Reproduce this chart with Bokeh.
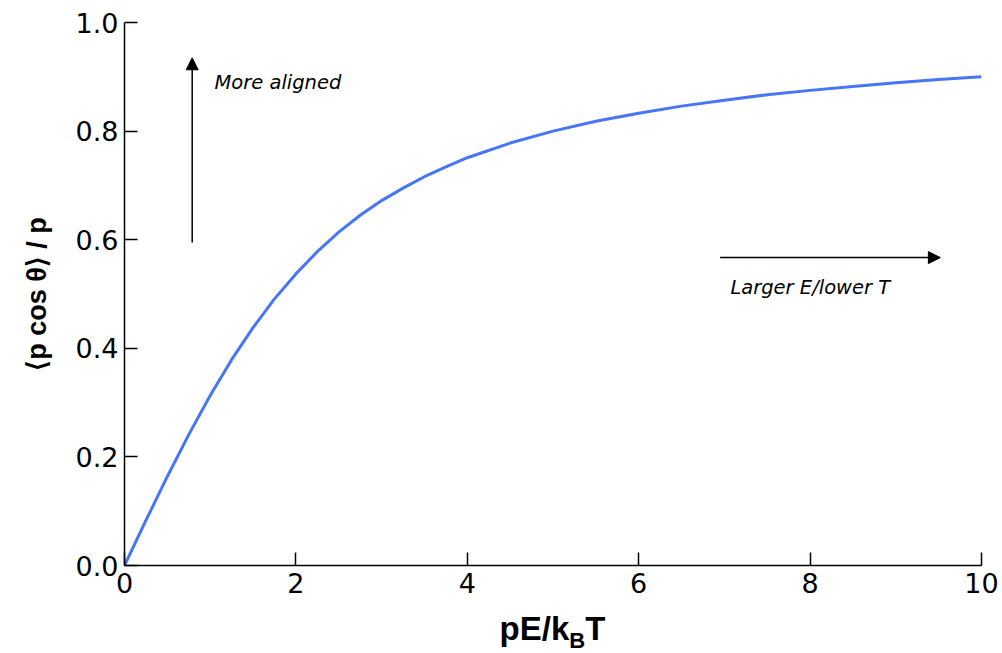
from bokeh.plotting import figure
from bokeh.models import (Range1d, FixedTicker, PrintfTickFormatter, Label, Arrow,
                          NormalHead, ColumnDataSource, Div)
from bokeh.layouts import column
from bokeh.embed import file_html
from bokeh.resources import INLINE

# Values
field_ratio = [0, 0.25, 0.5, 0.75, 1.0, 1.25, 1.5, 1.75, 2.0, 2.25, 2.5, 2.75, 3.0,
               3.25, 3.5, 3.75, 4.0, 4.5, 5.0, 5.5, 6.0, 6.5, 7.0, 7.5, 8.0, 8.5,
               9.0, 9.5, 10.0]
alignment = [0.0, 0.083, 0.164, 0.241, 0.313, 0.379, 0.438, 0.491, 0.537, 0.578,
             0.614, 0.645, 0.672, 0.695, 0.716, 0.734, 0.751, 0.778, 0.800, 0.818,
             0.833, 0.846, 0.857, 0.867, 0.875, 0.882, 0.889, 0.895, 0.900]
x_ticks = [0, 2, 4, 6, 8, 10]
y_ticks = [0.0, 0.2, 0.4, 0.6, 0.8, 1.0]

src = ColumnDataSource(dict(x=field_ratio, y=alignment))

p = figure(width=1002, height=610, output_backend="svg", toolbar_location=None,
           x_range=Range1d(0, 10), y_range=Range1d(0, 1.0),
           min_border_left=124, min_border_right=21, min_border_top=22, min_border_bottom=45)
p.outline_line_color = None
p.xgrid.visible = False
p.ygrid.visible = False
p.background_fill_color = "white"
p.border_fill_color = "white"

p.line("x", "y", source=src, line_color="#4676f6", line_width=3)

for ax in (p.xaxis[0], p.yaxis[0]):
    ax.major_tick_in = 13
    ax.major_tick_out = 0
    ax.minor_tick_line_color = None
    ax.axis_line_width = 1.5
    ax.major_tick_line_width = 1.5
    ax.axis_line_color = "black"
    ax.major_tick_line_color = "black"
    ax.major_label_text_font = "DejaVu Sans"
    ax.major_label_text_font_size = "27px"
    ax.major_label_text_color = "black"

p.xaxis.ticker = FixedTicker(ticks=x_ticks)
p.yaxis.ticker = FixedTicker(ticks=y_ticks)
p.yaxis.formatter = PrintfTickFormatter(format="%.1f")
p.xaxis.major_label_standoff = 7
p.yaxis.major_label_standoff = 6

p.yaxis.axis_label = "\u27e8p cos \u03b8\u27e9 / p"
p.yaxis.axis_label_text_font = "Liberation Sans"
p.yaxis.axis_label_text_font_style = "bold"
p.yaxis.axis_label_text_font_size = "27px"
p.yaxis.axis_label_text_color = "black"
p.yaxis.axis_label_standoff = 21

# annotations
ann_kw = dict(text_font="DejaVu Sans", text_font_style="italic", text_color="black",
              text_font_size="19.5px", text_baseline="middle")
p.add_layout(Label(x=1.05, y=0.89, text="More aligned", **ann_kw))
p.add_layout(Label(x=7.07, y=0.512, text="Larger E/lower T", **ann_kw))

p.add_layout(Arrow(x_start=0.79, y_start=0.595, x_end=0.79, y_end=0.935,
                   line_width=1.5, line_color="black",
                   end=NormalHead(size=12, fill_color="black", line_color="black")))
p.add_layout(Arrow(x_start=6.95, y_start=0.567, x_end=9.52, y_end=0.567,
                   line_width=1.5, line_color="black",
                   end=NormalHead(size=12, fill_color="black", line_color="black")))

xlabel = Div(text="pE/k<sub style='font-size:22px;vertical-align:-8px'>B</sub>T",
             width=857, height=43, margin=(0, 0, 0, 124),
             styles={"font-family": "'Liberation Sans', Arial, sans-serif",
                     "font-weight": "bold", "font-size": "33px", "color": "black",
                     "text-align": "center", "line-height": "38px",
                     "width": "857px"})

layout = column(p, xlabel, spacing=0)
open("out.html", "w").write(file_html(layout, INLINE))
